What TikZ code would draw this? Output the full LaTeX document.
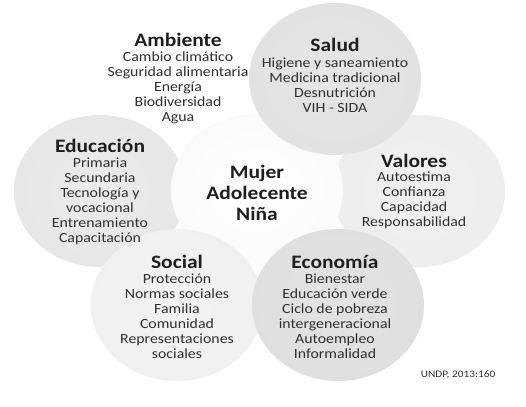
\documentclass[tikz,border=0pt]{standalone}
\usepackage{fontspec}
\setmainfont{Carlito}
\definecolor{ttlcol}{HTML}{1E1E1E}
\definecolor{bodycol}{HTML}{303030}
\pgfdeclareradialshading{shAmb}{\pgfpoint{0bp}{0bp}}{color(0bp)=(white); color(28bp)=(white); color(42bp)=(black!4); color(50bp)=(black!9)}
\pgfdeclareradialshading{shSal}{\pgfpoint{0bp}{0bp}}{color(0bp)=(black!10); color(35bp)=(black!12); color(50bp)=(black!15)}
\pgfdeclareradialshading{shEdu}{\pgfpoint{0bp}{0bp}}{color(0bp)=(black!8); color(35bp)=(black!10); color(50bp)=(black!13)}
\pgfdeclareradialshading{shVal}{\pgfpoint{0bp}{0bp}}{color(0bp)=(black!6); color(35bp)=(black!7); color(50bp)=(black!10)}
\pgfdeclareradialshading{shCen}{\pgfpoint{0bp}{0bp}}{color(0bp)=(white); color(28bp)=(black!2); color(50bp)=(black!6)}
\pgfdeclareradialshading{shSoc}{\pgfpoint{0bp}{0bp}}{color(0bp)=(black!5); color(35bp)=(black!6); color(50bp)=(black!10)}
\pgfdeclareradialshading{shEco}{\pgfpoint{0bp}{0bp}}{color(0bp)=(black!11); color(35bp)=(black!13); color(50bp)=(black!17)}
\tikzset{
  ttl/.style={font=\bfseries\fontsize{19}{21}\selectfont, xscale=1.13, text=ttlcol, inner sep=0pt, align=center},
  bodytxt/.style={font=\fontsize{14}{15}\selectfont, xscale=1.13, text=bodycol, inner sep=0pt, align=center},
  petal/.style={x radius=86pt, y radius=76pt}
}
\begin{document}
\begin{tikzpicture}[x=1pt,y=-1pt]
\useasboundingbox (0,0) rectangle (526,406);
\fill[white] (0,0) rectangle (526,406);
% circles
\shade[shading=shAmb] (178,81) ellipse [petal];
\shade[shading=shEdu] (100,191) ellipse [petal];
\shade[shading=shVal] (419,191) ellipse [petal];
\shade[shading=shCen] (257,190) ellipse [petal];
\shade[shading=shSal] (335,79) ellipse [petal];
\shade[shading=shSoc] (177,305) ellipse [petal];
\shade[shading=shEco] (338,305) ellipse [petal];
% Ambiente
\node[ttl] (tamb) at (178,40) {Ambiente};
\node[bodytxt] (bamb) at (178,87.5) {Cambio climático\\Seguridad alimentaria\\Energía\\Biodiversidad\\Agua};
% Salud
\node[ttl] (tsal) at (335,45) {Salud};
\node[bodytxt] (bsal) at (335,85.5) {Higiene y saneamiento\\Medicina tradicional\\Desnutrición\\VIH - SIDA};
% Educacion
\node[ttl] (tedu) at (100,146) {Educación};
\node[bodytxt] (bedu) at (100,201.5) {Primaria\\Secundaria\\Tecnología y\\vocacional\\Entrenamiento\\Capacitación};
% Valores
\node[ttl] (tval) at (414,161) {Valores};
\node[bodytxt] (bval) at (414,200.5) {Autoestima\\Confianza\\Capacidad\\Responsabilidad};
% Centro
\node[ttl, align=center] (tcen) at (257,193) {Mujer\\Adolecente\\Niña};
% Social
\node[ttl] (tsoc) at (177,262) {Social};
\node[bodytxt] (bsoc) at (177,316) {Protección\\Normas sociales\\Familia\\Comunidad\\Representaciones\\sociales};
% Economia
\node[ttl] (teco) at (335,262) {Economía};
\node[bodytxt] (beco) at (335,316) {Bienestar\\Educación verde\\Ciclo de pobreza\\intergeneracional\\Autoempleo\\Informalidad};
% source
\node[font=\fontsize{10}{12}\selectfont, xscale=1.13, text=bodycol, inner sep=0pt] (src) at (458,375) {UNDP, 2013:160};
\end{tikzpicture}
\end{document}
